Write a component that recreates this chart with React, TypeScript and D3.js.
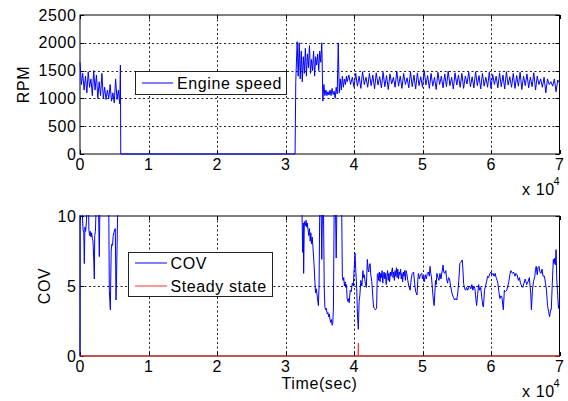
import React from "react";
import * as d3 from "d3";

const xTickLabels = ["0", "1", "2", "3", "4", "5", "6", "7"];
const xTickValues = [0, 10000, 20000, 30000, 40000, 50000, 60000, 70000];
const rpmTicks = [0, 500, 1000, 1500, 2000, 2500];
const covTicks = [0, 5, 10];

// RPM: startup segment, t = 0..5800 s every 200 s
const rpmStartup = [1650, 1250, 1450, 1150, 1400, 1100, 1480, 1200, 1350, 1050, 1500, 1150, 1420, 1000, 1300, 1050, 1450, 1000, 1200, 980, 1150, 1000, 1250, 950, 1100, 920, 1350, 980, 1150, 900];
const rpmTransitions: [number, number][] = [[5900, 1600], [5950, 0], [31400, 0], [31500, 1300], [31700, 2020]];
// RPM: restart segment, t = 31850..38900 every 150 s
const rpmRestart = [1400, 2000, 1350, 1850, 1300, 1750, 1450, 1900, 1400, 1800, 1550, 1950, 1450, 1700, 1500, 1850, 1400, 1750, 1600, 1800, 1500, 1850, 1650, 2000, 950, 1250, 1050, 1150, 1050, 1120, 1060, 1150, 1050, 1180, 1070, 1130, 1000, 1200, 1080, 2000, 1100, 1350, 1150, 1400, 1200, 1350, 1250, 1400];
// RPM: steady segment, t = 39000..70000 every 250 s
const rpmSteady = [
  1300, 1420, 1250, 1380, 1200, 1450, 1220, 1400, 1180, 1480, 1250, 1380, 1200, 1450, 1230, 1420,
  1170, 1460, 1240, 1390, 1190, 1470, 1210, 1410, 1160, 1440, 1260, 1380, 1200, 1490, 1220, 1400,
  1180, 1450, 1250, 1370, 1190, 1480, 1210, 1420, 1170, 1460, 1230, 1390, 1200, 1500, 1240, 1410,
  1180, 1450, 1220, 1380, 1160, 1470, 1250, 1400, 1190, 1440, 1210, 1490, 1230, 1380, 1170, 1460,
  1240, 1420, 1200, 1450, 1180, 1400, 1260, 1470, 1210, 1390, 1190, 1480, 1230, 1410, 1170, 1450,
  1220, 1380, 1200, 1470, 1180, 1430, 1250, 1400, 1190, 1460, 1210, 1420, 1170, 1480, 1240, 1390,
  1200, 1450, 1180, 1410, 1220, 1470, 1160, 1400, 1230, 1440, 1190, 1380, 1210, 1460, 1150, 1400,
  1250, 1350, 1200, 1380, 1100, 1350, 1250, 1300, 1220, 1350, 1120, 1330, 1280,
];

const covStartup: [number, number][] = [
  [0, 0], [20, 10.5], [300, 10.5], [450, 9.0], [550, 8.8], [630, 6.6], [720, 9.2], [820, 8.9], [920, 9.5], [1020, 10.5], [1250, 10.5], [1300, 9.0], [1400, 8.6], [1500, 8.9], [1600, 8.5], [1700, 8.8], [1800, 8.4], [1900, 8.2], [2000, 7.0], [2090, 5.5], [2150, 8.6], [2250, 8.9], [2350, 10.5], [2700, 10.5], [2820, 7.1], [2900, 10.5], [4200, 10.5], [4280, 4.7], [4430, 3.3], [4550, 7.5], [4650, 8.0], [4750, 7.9], [4850, 8.6], [4950, 8.8], [5050, 9.0], [5150, 9.1], [5260, 4.0], [5350, 6.0], [5450, 9.0], [5520, 10.5],
];
const covRestart: [number, number][] = [
  [32400, 10.5], [32500, 7.4], [32600, 9.5], [32650, 5.9], [32750, 9.6], [32900, 9.3], [33000, 9.7], [33100, 9.2], [33200, 9.5], [33300, 9.0], [33400, 8.6], [33500, 9.1], [33600, 8.2], [33700, 8.8], [33800, 8.0], [33900, 8.5], [34000, 7.8], [34150, 6.7], [34300, 5.2], [34400, 4.5], [34500, 4.8], [34650, 4.2], [34800, 3.6], [34900, 5.0], [35000, 10.5], [35200, 10.5], [35300, 6.9], [35400, 10.5], [35550, 10.5], [35650, 5.0], [35750, 3.5], [35850, 3.3], [35950, 3.4], [36100, 3.0], [36200, 3.1], [36300, 2.8], [36400, 3.0], [36500, 2.6], [36600, 2.4], [36700, 2.6], [36800, 2.2], [36900, 2.3], [37000, 3.5], [37100, 10.5], [37300, 10.5], [37400, 7.0], [37500, 10.5], [38200, 10.5], [38300, 5.7], [38400, 5.4], [38500, 5.6], [38600, 5.0], [38700, 5.3], [38800, 4.9], [38900, 5.1], [39000, 4.1], [39100, 3.9], [39200, 4.1], [39300, 3.8], [39450, 4.7], [39600, 4.6], [39750, 5.2], [39900, 5.0], [40000, 6.0], [40150, 7.35], [40250, 6.2], [40400, 4.8], [40500, 3.0], [40630, 1.9], [40750, 3.9], [40850, 4.3], [41000, 5.4], [41150, 5.0], [41300, 6.1], [41400, 5.6], [41500, 5.8], [41650, 5.2], [41800, 4.9], [41950, 6.9], [42050, 6.2], [42150, 6.0], [42250, 6.5], [42350, 6.6], [42450, 5.8], [42600, 5.3], [42750, 4.2], [42850, 3.5], [43000, 3.4], [43100, 3.3], [43300, 3.4], [43400, 5.8], [43500, 5.9], [43600, 5.4], [43700, 6.0], [43800, 5.3], [43900, 5.9], [44000, 5.6], [44100, 6.1], [44200, 5.2], [44300, 5.8], [44400, 6.0], [44500, 5.5], [44600, 5.9], [44700, 5.1], [44800, 5.7], [44900, 6.1], [45000, 5.4], [45100, 5.9], [45200, 5.3], [45300, 6.0], [45400, 5.7], [45500, 6.0], [45600, 6.3], [45700, 5.6], [45800, 6.0], [45900, 5.4], [46000, 6.1], [46100, 5.7], [46200, 6.3], [46300, 5.6], [46400, 6.2], [46500, 5.5], [46600, 6.0], [46700, 5.8], [46800, 6.2], [46900, 5.5], [47000, 5.9], [47100, 5.3], [47200, 6.0], [47300, 5.7], [47400, 6.1], [47500, 5.4], [47600, 6.1], [47700, 5.9], [47850, 5.4], [48000, 5.0], [48200, 4.7], [48350, 5.5], [48500, 5.9], [48700, 6.0], [48850, 5.2], [49000, 4.6], [49200, 4.36], [49300, 5.3], [49400, 5.9], [49550, 5.5], [49700, 5.8], [49900, 5.9], [50000, 5.5], [50100, 5.7], [50250, 5.3], [50400, 5.8], [50550, 5.5], [50700, 5.9], [50850, 6.0], [51000, 5.7], [51100, 6.4], [51200, 5.9], [51300, 5.7], [51450, 4.8], [51600, 3.9], [51700, 3.6], [51800, 4.5], [51900, 5.4], [52000, 5.1], [52100, 5.9], [52250, 5.6], [52400, 5.4], [52550, 5.9], [52700, 5.5], [52850, 6.0], [53000, 6.5], [53100, 6.0], [53250, 5.9], [53400, 6.1], [53500, 5.6], [53650, 5.2], [53800, 5.6], [53950, 5.5], [54100, 5.0], [54300, 4.5], [54500, 4.2], [54700, 4.0], [54850, 4.1], [55000, 4.0], [55150, 4.5], [55300, 5.4], [55450, 6.6], [55600, 6.7], [55800, 6.86], [55900, 6.2], [56000, 5.2], [56150, 4.8], [56300, 4.7], [56450, 4.9], [56600, 4.7], [56750, 4.9], [56900, 5.0], [57050, 4.8], [57200, 5.1], [57350, 4.7], [57500, 5.0], [57650, 4.8], [57750, 4.3], [57900, 3.6], [58050, 4.4], [58200, 5.1], [58350, 4.7], [58500, 4.9], [58650, 4.2], [58800, 3.6], [58900, 3.5], [59050, 4.7], [59200, 5.0], [59350, 5.3], [59500, 5.7], [59650, 5.6], [59850, 5.9], [60000, 6.0], [60150, 5.8], [60300, 5.9], [60450, 5.7], [60600, 5.9], [60750, 5.6], [60900, 5.4], [61000, 5.2], [61150, 4.6], [61300, 4.1], [61450, 4.3], [61600, 4.2], [61800, 3.3], [61950, 4.7], [62100, 4.6], [62300, 4.7], [62450, 5.0], [62600, 5.3], [62750, 5.8], [62900, 6.1], [63000, 6.0], [63150, 5.9], [63300, 6.0], [63500, 5.7], [63650, 5.9], [63800, 5.8], [64000, 5.4], [64150, 5.6], [64300, 5.2], [64500, 5.0], [64650, 4.9], [64800, 5.2], [65000, 5.5], [65200, 5.1], [65400, 5.3], [65600, 5.6], [65700, 5.0], [65800, 4.5], [65900, 3.3], [66050, 4.7], [66200, 5.3], [66400, 5.7], [66500, 6.2], [66600, 6.4], [66750, 5.8], [66850, 6.3], [67000, 6.4], [67150, 6.0], [67300, 5.9], [67450, 6.2], [67600, 5.7], [67800, 5.7], [67950, 5.2], [68100, 4.7], [68250, 3.6], [68400, 3.2], [68550, 2.8], [68700, 3.3], [68800, 3.3], [68950, 5.2], [69100, 6.9], [69200, 6.6], [69300, 7.0], [69400, 6.5], [69500, 7.6], [69600, 5.5], [69700, 4.7], [69850, 3.4], [70000, 3.9],
];
const steadyState: [number, number][] = [[0, 0], [40610, 0], [40630, 0.95], [40650, 0], [70000, 0]];

const FONT = "'Liberation Sans', Arial, Helvetica, sans-serif";
const FS = 16;
const LS = 0.6;

function seq(start: number, step: number, values: number[]): [number, number][] {
  return values.map((v, i) => [start + i * step, v] as [number, number]);
}

const rpmSeries: [number, number][] = [
  ...seq(0, 200, rpmStartup),
  ...rpmTransitions,
  ...seq(31850, 150, rpmRestart),
  ...seq(39000, 250, rpmSteady),
];
const covSeries: [number, number][] = [...covStartup, [6000, NaN], ...covRestart];

const left = 80;
const right = 559.5;

type PanelProps = {
  id: string;
  top: number;
  bottom: number;
  yTicks: number[];
  yMax: number;
  yLabel: string;
  yLabelX: number;
  children: (x: d3.ScaleLinear<number, number>, y: d3.ScaleLinear<number, number>) => React.ReactNode;
  xLabel?: string;
};

function Panel({ id, top, bottom, yTicks, yMax, yLabel, yLabelX, children, xLabel }: PanelProps) {
  const x = d3.scaleLinear().domain([0, 70000]).range([left, right]);
  const y = d3.scaleLinear().domain([0, yMax]).range([bottom, top]);
  const tl = 4;
  const px = (v: number) => Math.round(v) + 0.5;
  return (
    <g>
      <defs>
        <clipPath id={id}>
          <rect x={left - 1} y={top - 1} width={right - left + 2} height={bottom - top + 2} />
        </clipPath>
      </defs>
      <rect x={left} y={top} width={right - left} height={bottom - top} fill="#fff" />
      {xTickValues.slice(1, -1).map((t) => (
        <line key={"gx" + t} x1={px(x(t))} x2={px(x(t))} y1={top} y2={bottom} stroke="#222" strokeWidth={1} strokeDasharray="2,2.5" />
      ))}
      {yTicks.slice(1, -1).map((t) => (
        <line key={"gy" + t} x1={left} x2={right} y1={px(y(t))} y2={px(y(t))} stroke="#222" strokeWidth={1} strokeDasharray="2,2.5" />
      ))}
      {xTickValues.map((t) => (
        <g key={"tx" + t}>
          <line x1={px(x(t))} x2={px(x(t))} y1={bottom} y2={bottom - tl} stroke="#000" />
          <line x1={px(x(t))} x2={px(x(t))} y1={top} y2={top + tl} stroke="#000" />
        </g>
      ))}
      {yTicks.map((t) => (
        <g key={"ty" + t}>
          <line x1={left} x2={left + tl} y1={px(y(t))} y2={px(y(t))} stroke="#000" />
          <line x1={right} x2={right - tl} y1={px(y(t))} y2={px(y(t))} stroke="#000" />
        </g>
      ))}
      <rect x={left} y={top} width={right - left} height={bottom - top} fill="none" stroke="#000" strokeWidth={1} />
      <g clipPath={`url(#${id})`}>{children(x, y)}</g>
      {xTickValues.map((t, i) => (
        <text key={"lx" + t} x={x(t) + LS / 2} y={bottom + 16} textAnchor="middle" fontFamily={FONT} fontSize={FS} letterSpacing={LS}>
          {xTickLabels[i]}
        </text>
      ))}
      {yTicks.map((t) => (
        <text key={"ly" + t} x={left - 3.5} y={y(t) + 5.5} textAnchor="end" fontFamily={FONT} fontSize={FS} letterSpacing={LS}>
          {t}
        </text>
      ))}
      <text transform={`translate(${yLabelX},${(top + bottom) / 2}) rotate(-90)`} textAnchor="middle" fontFamily={FONT} fontSize={FS} letterSpacing={LS}>
        {yLabel}
      </text>
      <text x={522} y={bottom + 40.5} fontFamily={FONT} fontSize={FS} letterSpacing={LS}>
        x 10
      </text>
      <text x={553.5} y={bottom + 31} fontFamily={FONT} fontSize={11}>
        4
      </text>
      {xLabel && (
        <text x={319.5} y={bottom + 33} textAnchor="middle" fontFamily={FONT} fontSize={FS} letterSpacing={LS}>
          {xLabel}
        </text>
      )}
    </g>
  );
}

export default function App() {
  const mkLine = (x: d3.ScaleLinear<number, number>, y: d3.ScaleLinear<number, number>) =>
    d3
      .line<[number, number]>()
      .defined((d) => !isNaN(d[1]))
      .x((d) => x(d[0]))
      .y((d) => y(d[1]));
  return (
    <svg width={568} height={401} style={{ position: "absolute", left: 0, top: 0, background: "#fff" }}>
      <rect width={568} height={401} fill="#fff" />
      <Panel id="c1" top={15} bottom={154} yTicks={rpmTicks} yMax={2500} yLabel="RPM" yLabelX={29}>
        {(x, y) => <path d={mkLine(x, y)(rpmSeries) || ""} fill="none" stroke="#0000ff" strokeWidth={1} />}
      </Panel>
      <Panel id="c2" top={216} bottom={356} yTicks={covTicks} yMax={10} yLabel="COV" yLabelX={50} xLabel="Time(sec)">
        {(x, y) => (
          <g>
            <path d={mkLine(x, y)(covSeries) || ""} fill="none" stroke="#0000ff" strokeWidth={1} />
            <path d={mkLine(x, y)(steadyState) || ""} fill="none" stroke="#ff3030" strokeWidth={1.2} />
          </g>
        )}
      </Panel>
      {/* legend top */}
      <rect x={135.5} y={71.5} width={151} height={23} fill="#fff" stroke="#222" strokeWidth={1} />
      <line x1={142} x2={173} y1={83} y2={83} stroke="#0000ff" strokeWidth={1} />
      <text x={177} y={88.5} fontFamily={FONT} fontSize={FS} letterSpacing={LS}>
        Engine speed
      </text>
      {/* legend bottom */}
      <rect x={128.5} y={252.5} width={144} height={44} fill="#fff" stroke="#222" strokeWidth={1} />
      <line x1={135} x2={167} y1={263} y2={263} stroke="#0000ff" strokeWidth={1} />
      <text x={170.5} y={269} fontFamily={FONT} fontSize={FS} letterSpacing={LS}>
        COV
      </text>
      <line x1={135} x2={167} y1={286} y2={286} stroke="#ff3030" strokeWidth={1} />
      <text x={170.5} y={291.5} fontFamily={FONT} fontSize={FS} letterSpacing={LS}>
        Steady state
      </text>
    </svg>
  );
}
